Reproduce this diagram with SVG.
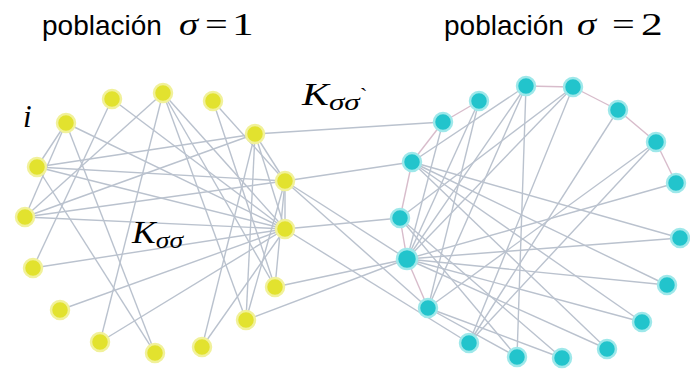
<svg xmlns="http://www.w3.org/2000/svg" width="690" height="370" viewBox="0 0 690 370">
<style>
.e{stroke:#bac2ce;stroke-width:1.4;fill:none}
.p{stroke:#d8bccb;stroke-width:1.4;fill:none}
.y{fill:#e2e22e;stroke:#f1f19a;stroke-width:2.5}
.c{fill:#22c4cc;stroke:#9ee8ea;stroke-width:2.5}
.h{font-family:"Liberation Sans",Arial,sans-serif;font-size:28px;fill:#000}
.m{font-family:"Liberation Serif","Times New Roman",serif;fill:#000;font-size:31px}
.i{font-style:italic}
</style>
<rect width="690" height="370" fill="#ffffff"/>
<g id="connectors">
<line class="e" x1="66" y1="123" x2="155" y2="353"/>
<line class="e" x1="66" y1="123" x2="285" y2="229"/>
<line class="e" x1="66" y1="123" x2="25" y2="217"/>
<line class="e" x1="66" y1="123" x2="37" y2="167"/>
<line class="e" x1="112" y1="99" x2="33" y2="268"/>
<line class="e" x1="112" y1="99" x2="285" y2="229"/>
<line class="e" x1="163" y1="93" x2="100" y2="342"/>
<line class="e" x1="163" y1="93" x2="25" y2="217"/>
<line class="e" x1="163" y1="93" x2="275" y2="287"/>
<line class="e" x1="163" y1="93" x2="246" y2="320"/>
<line class="e" x1="163" y1="93" x2="285" y2="229"/>
<line class="e" x1="213" y1="101" x2="285" y2="181"/>
<line class="e" x1="213" y1="101" x2="275" y2="287"/>
<line class="e" x1="255" y1="134" x2="25" y2="217"/>
<line class="e" x1="255" y1="134" x2="37" y2="167"/>
<line class="e" x1="255" y1="134" x2="202" y2="347"/>
<line class="e" x1="255" y1="134" x2="246" y2="320"/>
<line class="e" x1="255" y1="134" x2="285" y2="229"/>
<line class="e" x1="255" y1="134" x2="285" y2="181"/>
<line class="e" x1="37" y1="167" x2="155" y2="353"/>
<line class="e" x1="37" y1="167" x2="285" y2="229"/>
<line class="e" x1="37" y1="167" x2="285" y2="181"/>
<line class="e" x1="25" y1="217" x2="285" y2="229"/>
<line class="e" x1="25" y1="217" x2="285" y2="181"/>
<line class="e" x1="33" y1="268" x2="285" y2="229"/>
<line class="e" x1="60" y1="310" x2="285" y2="229"/>
<line class="e" x1="100" y1="342" x2="285" y2="229"/>
<line class="e" x1="202" y1="347" x2="285" y2="229"/>
<line class="e" x1="246" y1="320" x2="285" y2="181"/>
<line class="e" x1="275" y1="287" x2="285" y2="181"/>
<line class="e" x1="285" y1="181" x2="285" y2="229"/>
<line class="e" x1="255" y1="134" x2="443" y2="122"/>
<line class="e" x1="285" y1="181" x2="412" y2="162"/>
<line class="e" x1="285" y1="181" x2="407" y2="259"/>
<line class="e" x1="285" y1="181" x2="428" y2="308"/>
<line class="e" x1="285" y1="229" x2="400" y2="218"/>
<line class="e" x1="285" y1="229" x2="469" y2="343"/>
<line class="e" x1="275" y1="287" x2="407" y2="259"/>
<line class="e" x1="246" y1="320" x2="407" y2="259"/>
<line class="p" x1="443" y1="122" x2="479" y2="101"/>
<line class="p" x1="443" y1="122" x2="412" y2="162"/>
<line class="p" x1="412" y1="162" x2="400" y2="218"/>
<line class="p" x1="400" y1="218" x2="407" y2="259"/>
<line class="p" x1="407" y1="259" x2="428" y2="308"/>
<line class="p" x1="526" y1="86" x2="573" y2="87"/>
<line class="p" x1="573" y1="87" x2="618" y2="110"/>
<line class="p" x1="618" y1="110" x2="656" y2="142"/>
<line class="p" x1="656" y1="142" x2="676" y2="183"/>
<line class="e" x1="412" y1="162" x2="667" y2="285"/>
<line class="e" x1="412" y1="162" x2="680" y2="238"/>
<line class="e" x1="412" y1="162" x2="607" y2="349"/>
<line class="e" x1="412" y1="162" x2="642" y2="322"/>
<line class="e" x1="407" y1="259" x2="676" y2="183"/>
<line class="e" x1="407" y1="259" x2="680" y2="238"/>
<line class="e" x1="407" y1="259" x2="667" y2="285"/>
<line class="e" x1="407" y1="259" x2="642" y2="322"/>
<line class="e" x1="407" y1="259" x2="607" y2="349"/>
<line class="e" x1="526" y1="86" x2="517" y2="357"/>
<line class="e" x1="526" y1="86" x2="428" y2="308"/>
<line class="e" x1="526" y1="86" x2="407" y2="259"/>
<line class="e" x1="479" y1="101" x2="428" y2="308"/>
<line class="e" x1="573" y1="87" x2="469" y2="343"/>
<line class="e" x1="573" y1="87" x2="407" y2="259"/>
<line class="e" x1="573" y1="87" x2="400" y2="218"/>
<line class="e" x1="618" y1="110" x2="469" y2="343"/>
<line class="e" x1="656" y1="142" x2="428" y2="308"/>
<line class="e" x1="656" y1="142" x2="469" y2="343"/>
<line class="e" x1="428" y1="308" x2="562" y2="358"/>
<line class="e" x1="428" y1="308" x2="517" y2="357"/>
<line class="e" x1="400" y1="218" x2="562" y2="358"/>
<line class="e" x1="400" y1="218" x2="517" y2="357"/>
<line class="e" x1="443" y1="122" x2="407" y2="259"/>
<line class="e" x1="526" y1="86" x2="412" y2="162"/>
<line class="e" x1="479" y1="101" x2="407" y2="259"/>
</g>
<g id="pop1">
<g id="L1"><circle class="y" cx="66" cy="123" r="9"/></g>
<g id="L2"><circle class="y" cx="112" cy="99" r="9"/></g>
<g id="L3"><circle class="y" cx="163" cy="93" r="9"/></g>
<g id="L4"><circle class="y" cx="213" cy="101" r="9"/></g>
<g id="L5"><circle class="y" cx="255" cy="134" r="9"/></g>
<g id="L6"><circle class="y" cx="285" cy="181" r="9"/></g>
<g id="L7"><circle class="y" cx="285" cy="229" r="9"/></g>
<g id="L8"><circle class="y" cx="275" cy="287" r="9"/></g>
<g id="L9"><circle class="y" cx="246" cy="320" r="9"/></g>
<g id="L10"><circle class="y" cx="202" cy="347" r="9"/></g>
<g id="L11"><circle class="y" cx="155" cy="353" r="9"/></g>
<g id="L12"><circle class="y" cx="100" cy="342" r="9"/></g>
<g id="L13"><circle class="y" cx="60" cy="310" r="9"/></g>
<g id="L14"><circle class="y" cx="33" cy="268" r="9"/></g>
<g id="L15"><circle class="y" cx="25" cy="217" r="9"/></g>
<g id="L16"><circle class="y" cx="37" cy="167" r="9"/></g>
</g>
<g id="pop2">
<g id="R1"><circle class="c" cx="443" cy="122" r="9"/></g>
<g id="R2"><circle class="c" cx="479" cy="101" r="9"/></g>
<g id="R3"><circle class="c" cx="526" cy="86" r="9"/></g>
<g id="R4"><circle class="c" cx="573" cy="87" r="9"/></g>
<g id="R5"><circle class="c" cx="618" cy="110" r="9"/></g>
<g id="R6"><circle class="c" cx="656" cy="142" r="9"/></g>
<g id="R7"><circle class="c" cx="676" cy="183" r="9"/></g>
<g id="R8"><circle class="c" cx="680" cy="238" r="9"/></g>
<g id="R9"><circle class="c" cx="667" cy="285" r="9"/></g>
<g id="R10"><circle class="c" cx="642" cy="322" r="9"/></g>
<g id="R11"><circle class="c" cx="607" cy="349" r="9"/></g>
<g id="R12"><circle class="c" cx="562" cy="358" r="9"/></g>
<g id="R13"><circle class="c" cx="517" cy="357" r="9"/></g>
<g id="R14"><circle class="c" cx="469" cy="343" r="9"/></g>
<g id="R15"><circle class="c" cx="428" cy="308" r="9"/></g>
<g id="R16"><circle class="c" cx="407" cy="259" r="10"/></g>
<g id="R17"><circle class="c" cx="400" cy="218" r="9"/></g>
<g id="R18"><circle class="c" cx="412" cy="162" r="9"/></g>
</g>
<g id="labels">
<text class="h" x="42" y="35">población</text>
<text class="m i" transform="translate(179,35) scale(1.25,1)">σ</text>
<text class="m" transform="translate(205,35) scale(1.3,1)">=</text>
<text class="m" transform="translate(232,35) scale(1.4,1)">1</text>
<text class="h" x="444" y="35">población</text>
<text class="m i" transform="translate(577,35) scale(1.25,1)">σ</text>
<text class="m" transform="translate(612,35) scale(1.3,1)">=</text>
<text class="m" transform="translate(641,35) scale(1.4,1)">2</text>
<text class="m i" x="23" y="127" font-size="38">i</text>
<text class="m i" transform="translate(132,243) scale(1.15,1)" font-size="27">K<tspan font-size="24" dy="5">σσ</tspan></text>
<text class="m i" transform="translate(302,105) scale(1.3,1)" font-size="30">K<tspan font-size="24" dy="5">σσ</tspan><tspan font-size="18" dy="-9" font-style="normal">`</tspan></text>
</g>
</svg>
